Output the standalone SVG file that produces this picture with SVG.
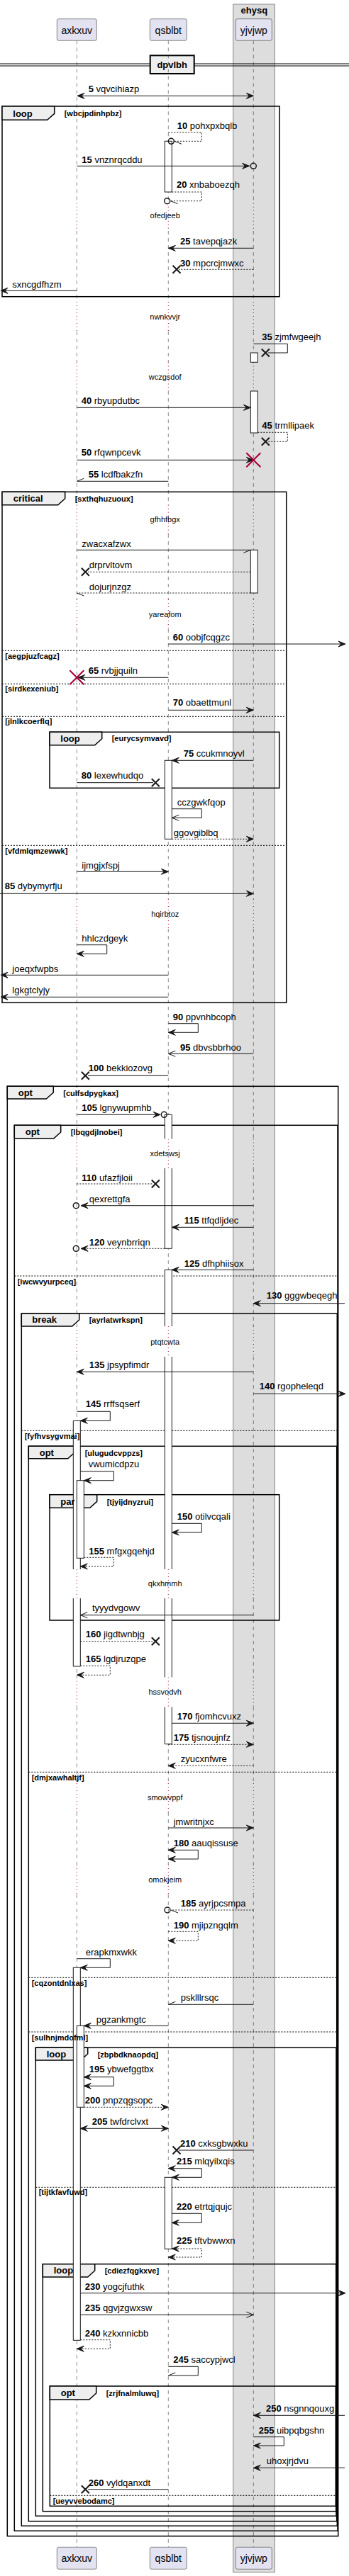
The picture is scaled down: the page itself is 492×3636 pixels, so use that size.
<svg xmlns="http://www.w3.org/2000/svg" xmlns:xlink="http://www.w3.org/1999/xlink" width="492" height="3636" viewBox="0 0 492 3636">
<style>
text{font-family:"Liberation Sans",Arial,sans-serif;fill:#000}
.pb{fill:#E2E2F0;stroke:#181818;stroke-width:0.5}
.pt{font-size:14px;text-anchor:middle}
.ll{stroke:#181818;stroke-width:0.5;stroke-dasharray:5,5;fill:none}
.dl{stroke:#A80036;stroke-width:1;stroke-dasharray:1,4;fill:none}
.act{fill:#fff;stroke:#181818;stroke-width:1}
.actf{fill:#fff;stroke:none}
.acto{fill:none;stroke:#181818;stroke-width:1}
.m{stroke:#181818;stroke-width:1;fill:none}
.md{stroke:#181818;stroke-width:1;fill:none;stroke-dasharray:2,2}
.t{font-size:13px}
.b{font-weight:bold}
.dt{font-size:11px;text-anchor:middle}
.fr{fill:none;stroke:#000;stroke-width:1.5}
.tab{fill:#EEEEEE;stroke:#000;stroke-width:1.5}
.fl{font-size:13px;font-weight:bold}
.fc{font-size:11px;font-weight:bold}
.el{stroke:#000;stroke-width:1;stroke-dasharray:2,2;fill:none}
.oc{fill:none;stroke:#181818;stroke-width:1.5}
</style>
<defs>
<marker id="af" viewBox="-12 -6 14 12" refX="0" refY="0" markerWidth="14" markerHeight="12" markerUnits="userSpaceOnUse" orient="auto"><path d="M0,0L-10,-4L-6,0L-10,4Z" fill="#181818" stroke="#181818" stroke-width="1"/></marker>
<marker id="afs" viewBox="-12 -6 14 12" refX="0" refY="0" markerWidth="14" markerHeight="12" markerUnits="userSpaceOnUse" orient="auto-start-reverse"><path d="M0,0L-10,-4L-6,0L-10,4Z" fill="#181818" stroke="#181818" stroke-width="1"/></marker>
<marker id="ao" viewBox="-12 -6 14 12" refX="0" refY="0" markerWidth="14" markerHeight="12" markerUnits="userSpaceOnUse" orient="auto"><path d="M-10,-4L0,0L-10,4" fill="none" stroke="#181818" stroke-width="1"/></marker>
<marker id="hm" viewBox="-12 -6 14 12" refX="0" refY="0" markerWidth="14" markerHeight="12" markerUnits="userSpaceOnUse" orient="auto"><path d="M0,0L-10,-4" fill="none" stroke="#181818" stroke-width="1"/></marker>
<marker id="hp" viewBox="-12 -6 14 12" refX="0" refY="0" markerWidth="14" markerHeight="12" markerUnits="userSpaceOnUse" orient="auto"><path d="M0,0L-10,4" fill="none" stroke="#181818" stroke-width="1"/></marker>
<path id="xm" d="M-5.5,-5.5L5.5,5.5M-5.5,5.5L5.5,-5.5" stroke="#181818" stroke-width="2" fill="none"/>
<path id="rxm" d="M-10,-10L10,10M-10,10L10,-10" stroke="#A80036" stroke-width="2" fill="none"/>
</defs>

<g id="ehysq">
<rect x="328.7" y="6" width="58.6" height="3624.7" fill="#DDDDDD" stroke="#888" stroke-width="1"/>
<text class="b" x="358.3" y="18.5" font-size="13" text-anchor="middle">ehysq</text>
</g>

<g id="divider-dpvlbh">
<path d="M0,90H492M0,93H492" stroke="#000" stroke-width="1"/>
<rect x="211.7" y="78.3" width="62" height="25.7" fill="#EEEEEE" stroke="#000" stroke-width="2"/>
<text class="b" x="242.7" y="96" font-size="13" text-anchor="middle">dpvlbh</text>
</g>

<g id="lifelines">
<path class="ll" d="M108.3,57.3V286.7M108.3,326V426M108.3,468V511.5M108.3,552V712.7M108.3,754V846M108.3,888V1269M108.3,1311V1607.5M108.3,1649V1872M108.3,1915V2215M108.3,2256V2367.5M108.3,2409.3V2517M108.3,2558V2632M108.3,2674V3595.3"/>
<path class="ll" d="M237.3,57.3V286.7M237.3,326V426M237.3,468V511.5M237.3,552V712.7M237.3,754V846M237.3,888V1269M237.3,1311V1607.5M237.3,1649V1872M237.3,1915V2215M237.3,2256V2367.5M237.3,2409.3V2517M237.3,2558V2632M237.3,2674V3595.3"/>
<path class="ll" d="M357.3,57.3V286.7M357.3,326V426M357.3,468V511.5M357.3,552V712.7M357.3,754V846M357.3,888V1269M357.3,1311V1607.5M357.3,1649V1872M357.3,1915V2215M357.3,2256V2367.5M357.3,2409.3V2517M357.3,2558V2632M357.3,2674V3595.3"/>
<path class="dl" d="M108.3,286.7V326M108.3,426V468M108.3,511.5V552M108.3,712.7V754M108.3,846V888M108.3,1269V1311M108.3,1607.5V1649M108.3,1872V1915M108.3,2215V2256M108.3,2367.5V2409.3M108.3,2517V2558M108.3,2632V2674"/>
<path class="dl" d="M237.3,286.7V326M237.3,426V468M237.3,511.5V552M237.3,712.7V754M237.3,846V888M237.3,1269V1311M237.3,1607.5V1649M237.3,1872V1915M237.3,2215V2256M237.3,2367.5V2409.3M237.3,2517V2558M237.3,2632V2674"/>
<path class="dl" d="M357.3,286.7V326M357.3,426V468M357.3,511.5V552M357.3,712.7V754M357.3,846V888M357.3,1269V1311M357.3,1607.5V1649M357.3,1872V1915M357.3,2215V2256M357.3,2367.5V2409.3M357.3,2517V2558M357.3,2632V2674"/>
</g>

<g id="axkxuv">
<rect class="pb" x="80.3" y="26.7" width="56" height="30.6" rx="2.5"/>
<text class="pt" x="108.3" y="47.5">axkxuv</text>
<rect class="pb" x="80.3" y="3595.3" width="56" height="31" rx="2.5"/>
<text class="pt" x="108.3" y="3616">axkxuv</text>
</g>
<g id="qsblbt">
<rect class="pb" x="211.3" y="26.7" width="52" height="30.6" rx="2.5"/>
<text class="pt" x="237.3" y="47.5">qsblbt</text>
<rect class="pb" x="211.3" y="3595.3" width="52" height="31" rx="2.5"/>
<text class="pt" x="237.3" y="3616">qsblbt</text>
</g>
<g id="yjvjwp">
<rect class="pb" x="332.3" y="26.7" width="51" height="30.6" rx="2.5"/>
<text class="pt" x="357.8" y="47.5">yjvjwp</text>
<rect class="pb" x="332.3" y="3595.3" width="51" height="31" rx="2.5"/>
<text class="pt" x="357.8" y="3616">yjvjwp</text>
</g>

<g id="frames">
<rect class="fr" x="3" y="150" width="391" height="268.7"/>
<polygon class="tab" points="3,150 76.7,150 76.7,160.3 66.7,169.3 3,169.3"/>
<rect class="fr" x="3" y="694.3" width="400.7" height="721"/>
<polygon class="tab" points="3,694.3 91.7,694.3 91.7,703.7 81.7,712.7 3,712.7"/>
<path class="el" d="M3,918.3H403.7M3,965.3H403.7M3,1011.3H403.7M3,1193.3H403.7"/>
<rect class="fr" x="70" y="1033.3" width="323.7" height="79"/>
<polygon class="tab" points="70,1033.3 143.7,1033.3 143.7,1042.7 133.7,1051.7 70,1051.7"/>
<rect class="fr" x="10.3" y="1533.3" width="466.4" height="2046.4"/>
<polygon class="tab" points="10.3,1533.3 75.3,1533.3 75.3,1542 65.3,1551 10.3,1551"/>
<rect class="fr" x="20.3" y="1588.3" width="455.7" height="1984"/>
<polygon class="tab" points="20.3,1588.3 85.7,1588.3 85.7,1598 75.7,1607 20.3,1607"/>
<path class="el" d="M20.3,1801H476"/>
<rect class="fr" x="30.3" y="1854" width="445" height="1711.3"/>
<polygon class="tab" points="30.3,1854 111.7,1854 111.7,1863 101.7,1872 30.3,1872"/>
<path class="el" d="M30.3,2019.3H475.3"/>
<rect class="fr" x="40.3" y="2041.3" width="434.4" height="1517.4"/>
<polygon class="tab" points="40.3,2041.3 105.7,2041.3 105.7,2049.7 95.7,2058.7 40.3,2058.7"/>
<path class="el" d="M40.3,2501.3H474.7M40.3,2791.3H474.7M40.3,2868H474.7"/>
<rect class="fr" x="70" y="2109.7" width="323.7" height="177.3"/>
<polygon class="tab" points="70,2109.7 136.7,2109.7 136.7,2119.3 126.7,2128.3 70,2128.3"/>
<rect class="fr" x="50.3" y="2890.3" width="423.7" height="661"/>
<polygon class="tab" points="50.3,2890.3 123.7,2890.3 123.7,2899 113.7,2908 50.3,2908"/>
<path class="el" d="M50.3,3087.3H474"/>
<rect class="fr" x="60.3" y="3195.7" width="413.4" height="349"/>
<polygon class="tab" points="60.3,3195.7 133.7,3195.7 133.7,3205 123.7,3214 60.3,3214"/>
<rect class="fr" x="70.3" y="3368" width="403" height="169.3"/>
<polygon class="tab" points="70.3,3368 135.7,3368 135.7,3378 125.7,3387 70.3,3387"/>
<path class="el" d="M70.3,3522.3H473.3"/>
</g>

<g id="activations">
<rect class="act" x="232.3" y="199.3" width="10" height="71.7"/>
<rect class="act" x="353.3" y="498" width="10" height="13.3"/>
<rect class="act" x="353.3" y="552" width="10" height="59"/>
<rect class="act" x="353.3" y="776.3" width="10" height="60.7"/>
<rect class="act" x="232.3" y="1073.3" width="10" height="111"/>
<rect class="actf" x="232.3" y="1573.3" width="10" height="34.2"/>
<rect class="actf" x="232.3" y="1649" width="10" height="113.3"/>
<path class="acto" d="M232.3,1607.5V1573.3H242.3V1607.5M232.3,1649V1762.3H242.3V1649"/>
<rect class="actf" x="232.3" y="1792.3" width="10" height="79.7"/>
<rect class="actf" x="232.3" y="1915" width="10" height="300"/>
<rect class="actf" x="232.3" y="2256" width="10" height="111.5"/>
<rect class="actf" x="232.3" y="2409.3" width="10" height="52.4"/>
<path class="acto" d="M232.3,1872V1792.3H242.3V1872M232.3,1915V2215M242.3,1915V2215M232.3,2256V2367.5M242.3,2256V2367.5M232.3,2409.3V2461.7H242.3V2409.3"/>
<rect class="actf" x="103.3" y="2005.3" width="10" height="209.7"/>
<rect class="actf" x="103.3" y="2256" width="10" height="96"/>
<path class="acto" d="M103.3,2215V2005.3H113.3V2215M103.3,2256V2352H113.3V2256"/>
<rect class="act" x="108.3" y="2089.7" width="10" height="109.6"/>
<rect class="act" x="103.3" y="2777.3" width="10" height="526"/>
<rect class="act" x="108.3" y="2859.3" width="10" height="115"/>
<rect class="act" x="232.3" y="3073.3" width="10" height="101"/>
</g>

<g id="frame-labels">
<text class="fl" x="18.3" y="164.5">loop</text>
<text class="fc" x="90.7" y="164">[wbcjpdinhpbz]</text>
<text class="fl" x="18.7" y="708.3">critical</text>
<text class="fc" x="105.7" y="708.3">[sxthqhuzuoux]</text>
<text class="fc" x="7.3" y="929.7">[aegpjuzfcagz]</text>
<text class="fc" x="7.3" y="975.7">[sirdkexeniub]</text>
<text class="fc" x="7.3" y="1022.3">[jlnlkcoerflq]</text>
<text class="fc" x="7.3" y="1205">[vfdmlqmzewwk]</text>
<text class="fl" x="85.3" y="1046.7">loop</text>
<text class="fc" x="157.7" y="1045.7">[eurycsymvavd]</text>
<text class="fl" x="25.7" y="1546.7">opt</text>
<text class="fc" x="89.3" y="1546.7">[culfsdpygkax]</text>
<text class="fl" x="35.7" y="1601.7">opt</text>
<text class="fc" x="99.7" y="1601.7">[lbqgdjlnobei]</text>
<text class="fc" x="24.7" y="1812.7">[iwcwvyurpceq]</text>
<text class="fl" x="45.3" y="1867.3">break</text>
<text class="fc" x="125.7" y="1867.3">[ayrlatwrkspn]</text>
<text class="fc" x="34.7" y="2031.3">[fyfhvsygvmai]</text>
<text class="fl" x="55.7" y="2054.7">opt</text>
<text class="fc" x="119.7" y="2054.7">[ulugudcvppzs]</text>
<text class="fl" x="85.3" y="2123.5">par</text>
<text class="fc" x="150.7" y="2123.5">[tjyijdnyzrui]</text>
<text class="fc" x="44.7" y="2513.3">[dmjxawhaltjf]</text>
<text class="fc" x="44.7" y="2803">[cqzontdnlxas]</text>
<text class="fc" x="44.7" y="2879.7">[sulhnjmdofml]</text>
<text class="fl" x="65.7" y="2903.7">loop</text>
<text class="fc" x="137.7" y="2903.7">[zbpbdknaopdq]</text>
<text class="fc" x="54.7" y="3098.3">[tijtkfavfuwd]</text>
<text class="fl" x="75.7" y="3209">loop</text>
<text class="fc" x="147.7" y="3209">[cdiezfqgkxve]</text>
<text class="fl" x="85.7" y="3382.3">opt</text>
<text class="fc" x="149.7" y="3382.3">[zrjfnalmluwq]</text>
<text class="fc" x="74.7" y="3534">[ueyvvebodamc]</text>
</g>

<g id="delays">
<text class="dt" x="232.7" y="308">ofedjeeb</text>
<text class="dt" x="232.7" y="450.7">nwnkvvjr</text>
<text class="dt" x="232.7" y="536.3">wczgsdof</text>
<text class="dt" x="232.7" y="737">gfhhfbgx</text>
<text class="dt" x="232.7" y="871">yareafom</text>
<text class="dt" x="232.7" y="1293.7">hqirbtoz</text>
<text class="dt" x="232.7" y="1632.3">xdetswsj</text>
<text class="dt" x="232.7" y="1898">ptqtcwta</text>
<text class="dt" x="232.7" y="2239.3">qkxhmmh</text>
<text class="dt" x="232.7" y="2391.7">hssvodvh</text>
<text class="dt" x="232.7" y="2541.3">smowvppf</text>
<text class="dt" x="232.7" y="2657.3">omokjeim</text>
</g>

<g id="connectors">
<path class="m" d="M109,135.3H357.3" marker-start="url(#afs)" marker-end="url(#af)"/>
<path class="md" d="M237.3,186.7H284.3V199.3H246" marker-end="url(#hm)"/>
<circle class="oc" cx="241.3" cy="199.3" r="4"/>
<path class="m" d="M108.3,234.3H351.5" marker-end="url(#af)"/>
<circle class="oc" cx="357.3" cy="234.3" r="4"/>
<path class="md" d="M242.3,271H284.3V283.7H240.5" marker-end="url(#hm)"/>
<circle class="oc" cx="235.7" cy="283.7" r="4"/>
<path class="m" d="M357.3,350.3H237.3" marker-end="url(#af)"/>
<path class="md" d="M357.3,380.3H252"/>
<use xlink:href="#xm" x="249" y="380.3"/>
<path class="m" d="M108.3,410.3H1" marker-end="url(#af)"/>
<path class="m" d="M357.3,485.3H405.3V498H378"/>
<use xlink:href="#xm" x="374.3" y="498"/>
<path class="m" d="M108.3,575.3H353.3" marker-end="url(#af)"/>
<path class="md" d="M363.3,610.3H405.3V623.3H378"/>
<use xlink:href="#xm" x="374.3" y="623.3"/>
<path class="m" d="M108.3,649.3H357.3" marker-end="url(#af)"/>
<use xlink:href="#rxm" x="357.3" y="649.3"/>
<path class="m" d="M237.3,679.3H108.3" marker-end="url(#hp)"/>
<path class="m" d="M108.3,776.3H353.3" marker-end="url(#hp)"/>
<path class="md" d="M353.3,807.3H124"/>
<use xlink:href="#xm" x="120.3" y="807.3"/>
<path class="md" d="M353.3,837H108.3" marker-end="url(#hm)"/>
<path class="m" d="M237.3,909H487" marker-end="url(#af)"/>
<path class="m" d="M237.3,956.3H110" marker-end="url(#af)"/>
<use xlink:href="#rxm" x="108.3" y="956.3"/>
<path class="m" d="M237.3,1002.3H357.3" marker-end="url(#af)"/>
<path class="m" d="M357.3,1073.3H242.3" marker-end="url(#af)"/>
<path class="m" d="M108.3,1104.7H216"/>
<use xlink:href="#xm" x="219.3" y="1104.7"/>
<path class="m" d="M242.3,1141.7H284.3V1154.3H242.3" marker-end="url(#ao)"/>
<path class="md" d="M242.3,1184.3H357.3" marker-end="url(#af)"/>
<path class="m" d="M108.3,1230.3H237.3" marker-end="url(#af)"/>
<path class="m" d="M0,1261.3H357.3" marker-end="url(#af)"/>
<path class="m" d="M108.3,1333.7H150.7V1346.3H108.3" marker-end="url(#af)"/>
<path class="m" d="M237.3,1376.3H1" marker-end="url(#af)"/>
<path class="m" d="M237.3,1407.3H1" marker-end="url(#af)"/>
<path class="m" d="M237.3,1444.7H279.3V1457.3H237.3" marker-end="url(#af)"/>
<path class="m" d="M357.3,1487.3H237.3" marker-end="url(#ao)"/>
<path class="m" d="M237.3,1518.3H124"/>
<use xlink:href="#xm" x="120.3" y="1518.3"/>
<path class="m" d="M108.3,1573.3H226" marker-end="url(#af)"/>
<circle class="oc" cx="231.3" cy="1573.3" r="4"/>
<path class="md" d="M108.3,1671H216"/>
<use xlink:href="#xm" x="219.3" y="1671"/>
<path class="m" d="M357.3,1701.7H114" marker-end="url(#af)"/>
<circle class="oc" cx="107.3" cy="1701.7" r="4"/>
<path class="m" d="M357.3,1732.3H242.3" marker-end="url(#af)"/>
<path class="md" d="M232.3,1762.3H114" marker-end="url(#af)"/>
<circle class="oc" cx="107.3" cy="1762.3" r="4"/>
<path class="m" d="M357.3,1792.3H242.3" marker-end="url(#af)"/>
<path class="m" d="M486,1839.7H357.3" marker-end="url(#af)"/>
<path class="m" d="M357.3,1936.3H108.3" marker-end="url(#af)"/>
<path class="m" d="M357.3,1967.3H487" marker-end="url(#af)"/>
<path class="m" d="M108.3,1992.3H155.3V2005.3H113.3" marker-end="url(#af)"/>
<path class="m" d="M113.3,2076.7H160.3V2089.7H118.3" marker-end="url(#af)"/>
<path class="m" d="M242.3,2150.3H284.3V2163H242.3" marker-end="url(#af)"/>
<path class="md" d="M118.3,2198.3H160.3V2211H113.3" marker-end="url(#af)"/>
<path class="m" d="M357.3,2279.7H113.3" marker-end="url(#ao)"/>
<path class="md" d="M113.3,2316.7H216"/>
<use xlink:href="#xm" x="219.3" y="2316.7"/>
<path class="md" d="M113.3,2351.3H155.3V2364.3H108.3" marker-end="url(#af)"/>
<path class="m" d="M242.3,2432.3H357.3" marker-end="url(#af)"/>
<path class="md" d="M237.3,2462.3H357.3" marker-end="url(#af)"/>
<path class="md" d="M357.3,2492.3H237.3" marker-end="url(#af)"/>
<path class="m" d="M237.3,2580H357.3" marker-end="url(#af)"/>
<path class="m" d="M237.3,2611.3H279.3V2624H237.3" marker-start="url(#afs)" marker-end="url(#af)"/>
<path class="md" d="M357.3,2696H241" marker-end="url(#hm)"/>
<circle class="oc" cx="236" cy="2696" r="4"/>
<path class="md" d="M237.3,2726.3H279.3V2739.3H237.3" marker-end="url(#af)"/>
<path class="m" d="M108.3,2764.7H155.3V2777.3H113.3" marker-end="url(#af)"/>
<path class="m" d="M357.3,2829.3H237.3" marker-end="url(#hp)"/>
<path class="m" d="M237.3,2859.3H118.3" marker-end="url(#af)"/>
<path class="m" d="M118.3,2931.7H160.3V2944.3H118.3" marker-start="url(#afs)" marker-end="url(#af)"/>
<path class="md" d="M118.3,2974.3H237.3" marker-end="url(#af)"/>
<path class="m" d="M113.3,3004.3H237.3" marker-start="url(#afs)" marker-end="url(#af)"/>
<path class="m" d="M357.3,3035H252"/>
<use xlink:href="#xm" x="249" y="3035"/>
<path class="m" d="M237.3,3060.7H284.3V3073.3H242.3" marker-start="url(#afs)" marker-end="url(#af)"/>
<path class="m" d="M242.3,3124.3H284.3V3137.3H242.3" marker-end="url(#af)"/>
<path class="md" d="M242.3,3174H284.3V3186H237.3" marker-start="url(#afs)" marker-end="url(#af)"/>
<path class="m" d="M113.3,3236.7H487" marker-end="url(#af)"/>
<path class="m" d="M113.3,3267.3H357.3" marker-end="url(#ao)"/>
<path class="md" d="M113.3,3302.7H155.3V3315.3H108.3" marker-end="url(#af)"/>
<path class="m" d="M237.3,3340.3H279.3V3353H237.3" marker-end="url(#hp)"/>
<path class="m" d="M486,3409.3H357.3" marker-end="url(#af)"/>
<path class="m" d="M357.3,3439.7H400.3V3452H357.3" marker-end="url(#af)"/>
<path class="m" d="M486,3483.3H357.3" marker-end="url(#af)"/>
<path class="m" d="M237.3,3513.7H124"/>
<use xlink:href="#xm" x="120.3" y="3513.7"/>
</g>

<g id="message-labels">
<text class="t" x="124.7" y="130"><tspan class="b">5</tspan> vqvcihiazp</text>
<text class="t" x="249.7" y="181.7"><tspan class="b">10</tspan> pohxpxbqlb</text>
<text class="t" x="115.3" y="230"><tspan class="b">15</tspan> vnznrqcddu</text>
<text class="t" x="249" y="265"><tspan class="b">20</tspan> xnbaboezqh</text>
<text class="t" x="254" y="344.7"><tspan class="b">25</tspan> tavepqjazk</text>
<text class="t" x="254" y="375.7"><tspan class="b">30</tspan> mpcrcjmwxc</text>
<text class="t" x="17.3" y="405.7">sxncgdfhzm</text>
<text class="t" x="369.3" y="479.7"><tspan class="b">35</tspan> zjmfwgeejh</text>
<text class="t" x="114.7" y="569.7"><tspan class="b">40</tspan> rbyupdutbc</text>
<text class="t" x="369.3" y="604.7"><tspan class="b">45</tspan> trmllipaek</text>
<text class="t" x="114.7" y="643.3"><tspan class="b">50</tspan> rfqwnpcevk</text>
<text class="t" x="124.7" y="674.3"><tspan class="b">55</tspan> lcdfbakzfn</text>
<text class="t" x="115.3" y="771.7">zwacxafzwx</text>
<text class="t" x="125.7" y="802">drprvltovm</text>
<text class="t" x="125.7" y="832.7">dojurjnzgz</text>
<text class="t" x="243.7" y="904.3"><tspan class="b">60</tspan> oobjfcqgzc</text>
<text class="t" x="124.7" y="950.7"><tspan class="b">65</tspan> rvbjjquiln</text>
<text class="t" x="243.7" y="996.3"><tspan class="b">70</tspan> obaettmunl</text>
<text class="t" x="258.7" y="1068.3"><tspan class="b">75</tspan> ccukmnoyvl</text>
<text class="t" x="114.7" y="1099"><tspan class="b">80</tspan> lexewhudqo</text>
<text class="t" x="249.7" y="1137.3">cczgwkfqop</text>
<text class="t" x="244.7" y="1179.7">ggovgiblbq</text>
<text class="t" x="115.3" y="1226">ijmgjxfspj</text>
<text class="t" x="6.7" y="1255.3"><tspan class="b">85</tspan> dybymyrfju</text>
<text class="t" x="115.3" y="1328.7">hhlczdgeyk</text>
<text class="t" x="17.3" y="1372">joeqxfwpbs</text>
<text class="t" x="17.3" y="1402">lgkgtclyjy</text>
<text class="t" x="243.7" y="1439.7"><tspan class="b">90</tspan> ppvnhbcoph</text>
<text class="t" x="254" y="1482.7"><tspan class="b">95</tspan> dbvsbbrhoo</text>
<text class="t" x="124.7" y="1512"><tspan class="b">100</tspan> bekkiozovg</text>
<text class="t" x="115.3" y="1568.3"><tspan class="b">105</tspan> lgnywupmhb</text>
<text class="t" x="115.3" y="1666.7"><tspan class="b">110</tspan> ufazfjloii</text>
<text class="t" x="125.7" y="1696.7">qexrettgfa</text>
<text class="t" x="259.7" y="1726.7"><tspan class="b">115</tspan> ttfqdljdec</text>
<text class="t" x="125.7" y="1757.7"><tspan class="b">120</tspan> veynbrriqn</text>
<text class="t" x="259.7" y="1787.7"><tspan class="b">125</tspan> dfhphiisox</text>
<text class="t" x="375.7" y="1833"><tspan class="b">130</tspan> gggwbeqegh</text>
<text class="t" x="125.7" y="1931.3"><tspan class="b">135</tspan> jpsypfimdr</text>
<text class="t" x="365.7" y="1961.3"><tspan class="b">140</tspan> rgopheleqd</text>
<text class="t" x="120.7" y="1986.3"><tspan class="b">145</tspan> rrffsqserf</text>
<text class="t" x="124.7" y="2071.3">vwumicdpzu</text>
<text class="t" x="249.7" y="2145"><tspan class="b">150</tspan> otilvcqali</text>
<text class="t" x="125.3" y="2193.7"><tspan class="b">155</tspan> mfgxgqehjd</text>
<text class="t" x="130" y="2273.7">tyyydvgowv</text>
<text class="t" x="120.7" y="2311"><tspan class="b">160</tspan> jigdtwnbjg</text>
<text class="t" x="120.7" y="2346"><tspan class="b">165</tspan> lgdjruzqpe</text>
<text class="t" x="249.7" y="2427"><tspan class="b">170</tspan> fjomhcvuxz</text>
<text class="t" x="244.7" y="2457.3"><tspan class="b">175</tspan> tjsnoujnfz</text>
<text class="t" x="254.7" y="2487.3">zyucxnfwre</text>
<text class="t" x="244.7" y="2575.7">jmwritnjxc</text>
<text class="t" x="244.7" y="2605.7"><tspan class="b">180</tspan> aauqissuse</text>
<text class="t" x="254.7" y="2690.7"><tspan class="b">185</tspan> ayrjpcsmpa</text>
<text class="t" x="244.7" y="2721.7"><tspan class="b">190</tspan> mjipzngqlm</text>
<text class="t" x="120.7" y="2759.7">erapkmxwkk</text>
<text class="t" x="254.7" y="2823.7">psklllrsqc</text>
<text class="t" x="135.7" y="2854.7">pgzankmgtc</text>
<text class="t" x="125.7" y="2925.3"><tspan class="b">195</tspan> ybwefggtbx</text>
<text class="t" x="119.7" y="2969.3"><tspan class="b">200</tspan> pnpzqgsopc</text>
<text class="t" x="129.7" y="2999.3"><tspan class="b">205</tspan> twfdrclvxt</text>
<text class="t" x="254" y="3029.5"><tspan class="b">210</tspan> cxksgbwxku</text>
<text class="t" x="249" y="3055"><tspan class="b">215</tspan> mlqyilxqis</text>
<text class="t" x="249" y="3119.3"><tspan class="b">220</tspan> etrtqjqujc</text>
<text class="t" x="249" y="3167.3"><tspan class="b">225</tspan> tftvbwwxn</text>
<text class="t" x="119.7" y="3231.7"><tspan class="b">230</tspan> yogcjfuthk</text>
<text class="t" x="119.7" y="3261.7"><tspan class="b">235</tspan> qgvjzgwxsw</text>
<text class="t" x="119.7" y="3297.7"><tspan class="b">240</tspan> kzkxnnicbb</text>
<text class="t" x="244.3" y="3335"><tspan class="b">245</tspan> saccypjwcl</text>
<text class="t" x="375" y="3404.3"><tspan class="b">250</tspan> nsgnnqouxg</text>
<text class="t" x="364.7" y="3434.7"><tspan class="b">255</tspan> uibpqbgshn</text>
<text class="t" x="375.7" y="3478">uhoxjrjdvu</text>
<text class="t" x="124.7" y="3508.7"><tspan class="b">260</tspan> vyldqanxdt</text>
</g>
</svg>
